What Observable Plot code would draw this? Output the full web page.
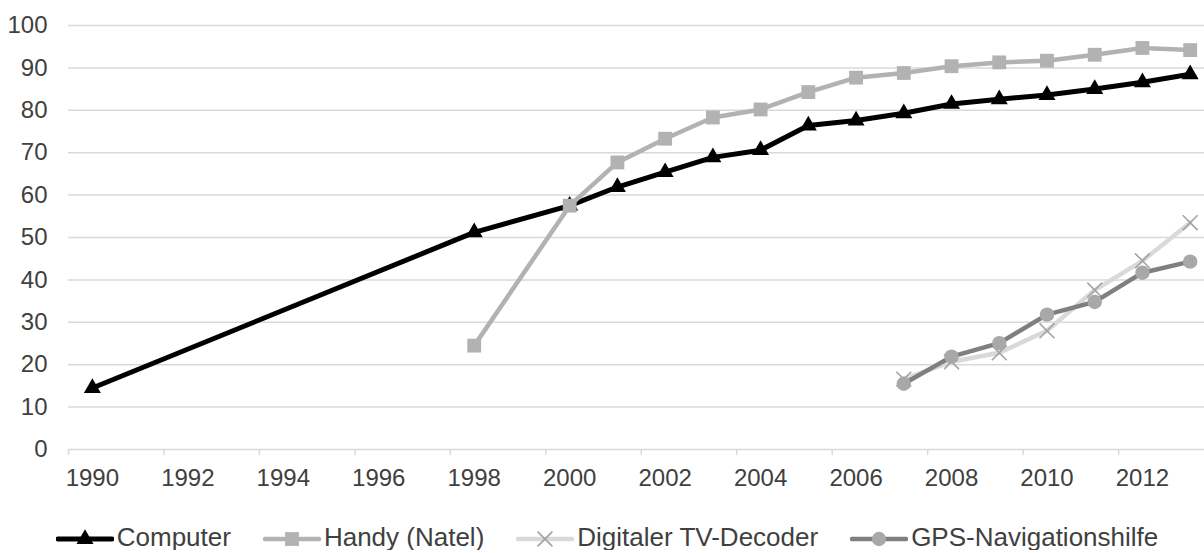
<!DOCTYPE html>
<html>
<head>
<meta charset="utf-8">
<script src="https://cdn.jsdelivr.net/npm/d3@7"></script>
<script src="https://cdn.jsdelivr.net/npm/@observablehq/plot@0.6"></script>
<style>
  body { margin: 0; background: #fff; font-family: "Liberation Sans", Arial, sans-serif; overflow: hidden; }
  #chart svg { display: block; }
  #legend { display: flex; justify-content: center; align-items: center; gap: 32px; margin-top: 19px; height: 26px; padding-left: 10px; }
  .item { display: flex; align-items: center; font-size: 26px; line-height: 26px; height: 26px; color: #404040; white-space: nowrap; }
  .item svg { display: block; margin-right: 3px; }
</style>
</head>
<body>
<div id="chart"></div>
<div id="legend"></div>
<script>
// Data
const seriesNames = ["Computer", "Handy (Natel)", "Digitaler TV-Decoder", "GPS-Navigationshilfe"];
const computerYears = [1990, 1998, 2000, 2001, 2002, 2003, 2004, 2005, 2006, 2007, 2008, 2009, 2010, 2011, 2012, 2013];
const computerValues = [14.5, 51.2, 57.5, 61.9, 65.4, 68.9, 70.6, 76.4, 77.6, 79.3, 81.5, 82.6, 83.6, 85.0, 86.6, 88.5];
const handyYears = [1998, 2000, 2001, 2002, 2003, 2004, 2005, 2006, 2007, 2008, 2009, 2010, 2011, 2012, 2013];
const handyValues = [24.5, 57.5, 67.7, 73.3, 78.3, 80.2, 84.3, 87.7, 88.8, 90.4, 91.3, 91.7, 93.1, 94.7, 94.2];
const tvYears = [2007, 2008, 2009, 2010, 2011, 2012, 2013];
const tvValues = [16.6, 20.7, 22.8, 28.0, 37.6, 44.5, 53.5];
const gpsYears = [2007, 2008, 2009, 2010, 2011, 2012, 2013];
const gpsValues = [15.5, 21.9, 25.1, 31.8, 34.8, 41.7, 44.3];
const xLabelTicks = [1990, 1992, 1994, 1996, 1998, 2000, 2002, 2004, 2006, 2008, 2010, 2012];
const yTicks = [0, 10, 20, 30, 40, 50, 60, 70, 80, 90, 100];

const toRows = (years, values) => years.map((y, i) => ({year: y, value: values[i]}));
const computer = toRows(computerYears, computerValues);
const handy = toRows(handyYears, handyValues);
const tv = toRows(tvYears, tvValues);
const gps = toRows(gpsYears, gpsValues);

const styles = [
  {line: "#000000", width: 5, symbol: "triangle", fill: "#000000", stroke: "none", r: 6.3},
  {line: "#b2b2b2", width: 4.5, symbol: "square", fill: "#b2b2b2", stroke: "none", r: 7.8},
  {line: "#d9d9d9", width: 4.5, symbol: "times", fill: "none", stroke: "#a3a3a3", r: 6.8},
  {line: "#7f7f7f", width: 4.5, symbol: "circle", fill: "#a8a8a8", stroke: "none", r: 7.2}
];
const datasets = [computer, handy, tv, gps];

// tick marks sit half a year before each labelled year
const halfTicks = xLabelTicks.map(y => y - 0.5);

const marks = [
  Plot.gridY(yTicks, {stroke: "#d9d9d9", strokeOpacity: 1, strokeWidth: 1.5}),
  Plot.axisX(halfTicks, {tickSize: 6, stroke: "#d9d9d9", strokeOpacity: 1, strokeWidth: 1.5, tickFormat: () => "", label: null}),
  Plot.axisX(xLabelTicks, {tickSize: 0, tickPadding: 19, tickFormat: d => String(d), label: null, fontSize: 24, fill: "#404040"}),
  Plot.axisY(yTicks, {tickSize: 0, tickPadding: 21, label: null, fontSize: 24, fill: "#404040"})
];
datasets.forEach((data, i) => {
  const s = styles[i];
  marks.push(Plot.line(data, {x: "year", y: "value", stroke: s.line, strokeWidth: s.width, strokeLinejoin: "round", strokeLinecap: "round"}));
  marks.push(Plot.dot(data, {x: "year", y: "value", symbol: () => s.symbol, r: s.r, fill: s.fill, stroke: s.stroke, strokeWidth: s.symbol === "times" ? 1.6 : 0, fillOpacity: 1}));
});

const chart = Plot.plot({
  width: 1204,
  height: 505,
  marginLeft: 68,
  marginRight: 0,
  marginTop: 25,
  marginBottom: 56,
  x: {type: "linear", domain: [1989.5, 2013.3]},
  y: {domain: [0, 100]},
  symbol: {type: "identity"},
  style: {fontFamily: "'Liberation Sans', Arial, sans-serif", fontSize: "24px", color: "#404040", background: "#fff"},
  marks
});
document.getElementById("chart").appendChild(chart);

// Legend
const legend = d3.select("#legend");
const symMap = {triangle: d3.symbolTriangle, square: d3.symbolSquare, times: d3.symbolTimes, circle: d3.symbolCircle};
seriesNames.forEach((name, i) => {
  const s = styles[i];
  const item = legend.append("div").attr("class", "item");
  const svg = item.append("svg").attr("width", 58).attr("height", 26);
  svg.append("line").attr("x1", 2).attr("x2", 56).attr("y1", 15).attr("y2", 15)
    .attr("stroke", s.line).attr("stroke-width", s.width).attr("stroke-linecap", "round");
  svg.append("path").attr("transform", "translate(29,15)")
    .attr("d", d3.symbol(symMap[s.symbol], Math.PI * s.r * s.r)())
    .attr("fill", s.fill).attr("stroke", s.stroke).attr("stroke-width", s.symbol === "times" ? 1.6 : 0);
  item.append("span").text(name);
});
</script>
</body>
</html>
